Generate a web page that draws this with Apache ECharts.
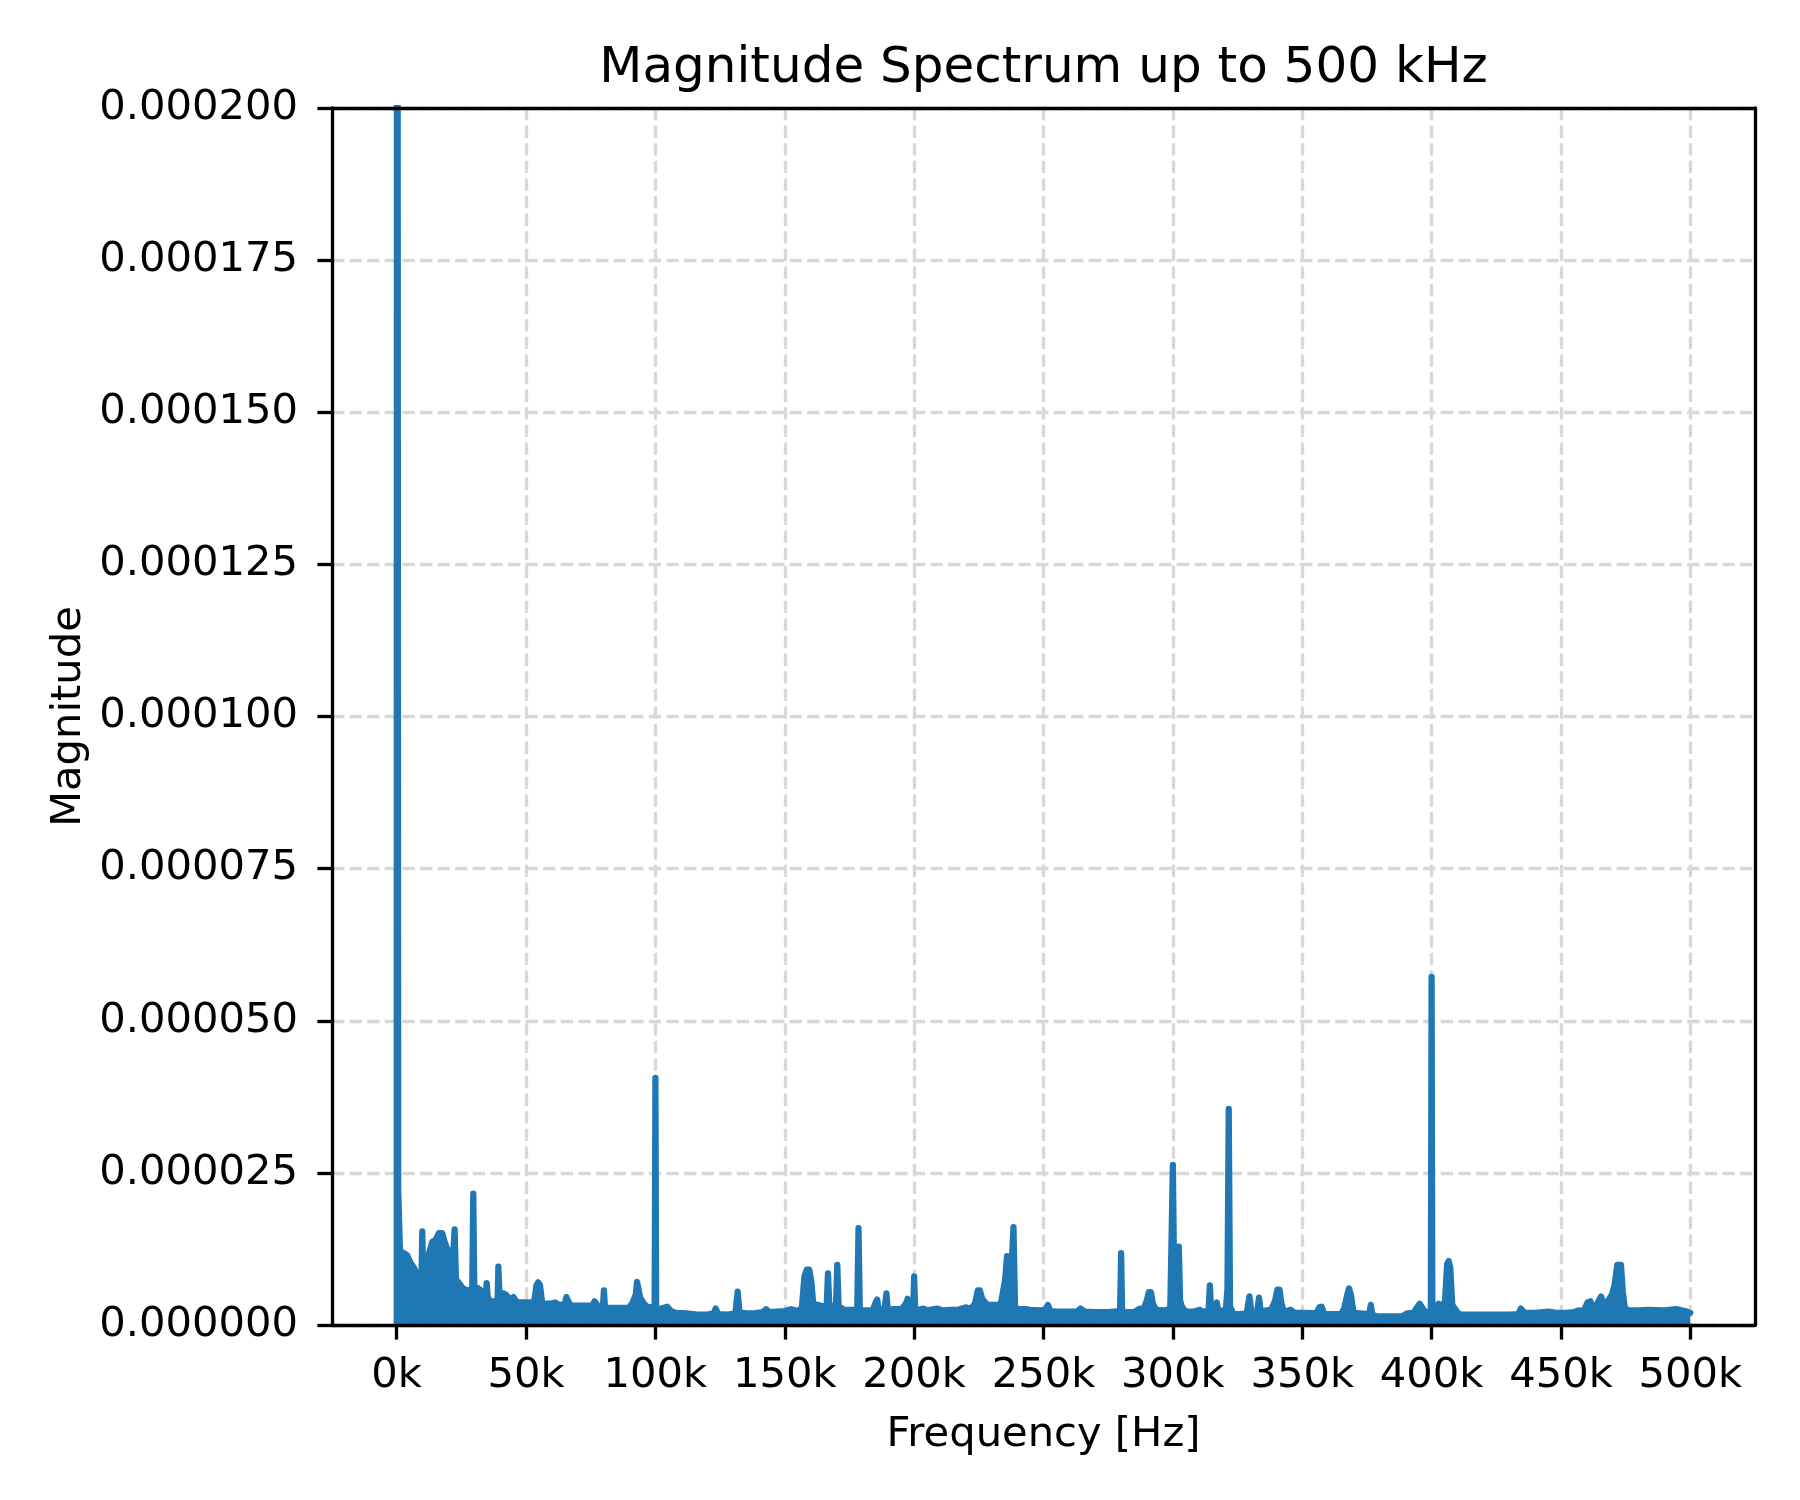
<!DOCTYPE html>
<html>
<head>
<meta charset="utf-8">
<title>Magnitude Spectrum up to 500 kHz</title>
<script src="https://cdn.jsdelivr.net/npm/echarts@6/dist/echarts.min.js"></script>
<style>
  html, body { margin: 0; padding: 0; background: #fff; }
  #chart { width: 1800px; height: 1500px; }
</style>
</head>
<body>
<div id="chart"></div>
<script>
// spectrum, frequency in kHz, magnitude in units of 1e-6
const band1Freq = [0, 0.15, 0.6, 1.3, 2.5, 4.0, 5.4, 6.7, 7.7, 8.8, 9.6, 9.9, 10.2, 11.2, 12.5, 13.8, 15.1, 16.3, 17.6, 18.5, 19.6, 21.9, 22.4, 22.9, 24.1, 25.4, 27.0, 29.2, 29.6, 30.0, 31.2, 33.1, 34.5, 34.8, 35.2, 36.3, 37.5, 39.0, 39.3, 39.7, 41.3, 42.5, 43.8, 45.1, 46.6, 49.0];
const band1Mag = [0.5, 400, 22.0, 11.9, 11.9, 11.5, 10.2, 9.4, 8.5, 8.0, 8.0, 15.4, 8.0, 8.5, 11.8, 13.7, 14.0, 15.1, 15.1, 13.7, 12.4, 12.0, 15.7, 7.5, 6.9, 6.1, 5.7, 5.8, 21.6, 6.1, 6.1, 5.5, 5.3, 6.9, 4.5, 3.9, 3.9, 4.0, 9.6, 5.3, 5.2, 4.9, 4.1, 4.6, 3.7, 3.7];

const band2Freq = [52.4, 53.2, 54.0, 54.7, 55.4, 56.2, 57.0, 59.5, 61.2, 62.8, 65.0, 65.6, 66.2, 66.8, 67.9, 72.0, 75.6, 76.5, 77.2, 78.0, 79.7, 80.1, 80.5, 82.0, 86.0, 89.6, 91.0, 92.4, 92.9, 93.5, 94.1, 95.6, 96.9, 98.8, 99.7];
const band2Mag = [3.7, 3.9, 6.5, 7.0, 6.5, 3.7, 3.5, 3.5, 3.7, 3.3, 3.4, 4.6, 4.8, 3.5, 3.2, 3.2, 3.2, 3.9, 4.0, 3.0, 3.0, 5.7, 2.9, 2.8, 2.8, 2.8, 3.5, 5.0, 7.1, 7.1, 4.5, 3.5, 3.0, 2.9, 2.9];

const band3Freq = [100.0, 100.3, 101.4, 104.6, 106.0, 108, 112, 116, 120, 122.5, 123.3, 124.2, 128, 130.9, 131.8, 132.5, 135, 138, 141.5, 142.8, 144, 147, 150, 152.5, 155, 156.6, 157.6, 158.5, 159.5, 160.3, 161, 163, 164.5, 166.2, 166.7, 167.2, 168.5, 169.8, 170.3, 170.8, 173, 175, 178.0, 178.5, 179.0, 181, 184, 185.2, 185.7, 186.3, 188.5, 189.3, 189.8, 192, 195, 196.8, 197.5, 198.6, 199.7];
const band3Mag = [40.6, 2.7, 2.6, 3.0, 2.3, 2.0, 1.9, 1.7, 1.7, 1.9, 2.7, 1.8, 1.7, 1.9, 5.5, 2.1, 1.9, 1.9, 2.1, 2.6, 2.1, 2.2, 2.3, 2.6, 2.3, 2.8, 8.0, 9.1, 9.1, 7.0, 3.5, 3.3, 3.1, 3.1, 8.5, 3.3, 3.1, 3.3, 9.9, 3.1, 2.5, 2.5, 2.5, 15.9, 2.5, 2.4, 2.4, 3.8, 4.2, 2.5, 2.5, 5.2, 2.5, 2.6, 2.6, 3.5, 4.3, 3.1, 3.1];

const band4Freq = [200.0, 200.4, 202, 203.6, 205, 208.9, 211, 214, 217, 220.2, 221.5, 223.5, 224.6, 225.4, 226.3, 227.5, 228.5, 232, 233.5, 235.2, 235.9, 236.5, 237.4, 238.4, 239.0, 240, 243, 245, 249, 250.8, 251.7, 252.6, 255, 263, 264.3, 266, 270, 275, 279.6, 280.0, 280.4, 282, 285, 287.2, 288.5, 289.9, 290.7, 291.5, 292.3, 293.5, 297, 299.0, 299.7];
const band4Mag = [8.0, 2.6, 2.5, 2.7, 2.4, 2.7, 2.4, 2.5, 2.5, 2.9, 2.5, 3.5, 5.7, 5.7, 4.3, 3.7, 3.3, 3.3, 3.5, 7.5, 11.3, 10.5, 7.5, 16.1, 3.0, 2.6, 2.6, 2.5, 2.4, 2.5, 3.3, 2.3, 2.2, 2.2, 2.7, 2.2, 2.1, 2.1, 2.3, 11.8, 2.1, 2.1, 2.1, 2.7, 2.5, 4.0, 5.4, 5.4, 3.5, 2.5, 2.4, 2.7, 2.9];

const band5Freq = [300.0, 300.6, 301.9, 302.3, 302.8, 303.6, 305, 308, 310.5, 311.5, 313.8, 314.3, 314.8, 316.3, 317.0, 317.5, 320.5, 321.1, 321.6, 322.1, 323.5, 326, 328.5, 329.6, 330.4, 332.5, 333.3, 334.0, 336, 338, 339.5, 340.4, 341.2, 342.0, 343, 345.5, 347, 352, 355.5, 356.6, 357.5, 358.5, 362, 365, 366.2, 367.4, 368.1, 368.8, 369.8, 372, 375.9, 376.5, 377.1, 379, 383, 388.4, 390.5, 393, 394.7, 395.4, 396.3, 397.5, 399.7];
const band5Mag = [26.3, 3.5, 4.0, 12.9, 4.0, 2.9, 2.2, 2.2, 2.5, 2.2, 2.3, 6.5, 2.3, 2.3, 3.7, 2.2, 2.5, 6.0, 35.5, 3.0, 1.8, 1.8, 1.9, 4.7, 1.9, 2.0, 4.5, 2.1, 2.4, 2.5, 4.0, 5.8, 5.8, 3.5, 2.1, 2.5, 2.0, 2.0, 1.9, 2.9, 3.0, 1.8, 1.8, 1.8, 2.7, 5.0, 6.0, 5.0, 2.1, 1.9, 1.8, 3.3, 1.7, 1.4, 1.4, 1.4, 1.9, 2.0, 3.1, 3.5, 2.9, 2.1, 2.3];

const band6Freq = [400.0, 400.3, 401.5, 402.7, 403.8, 405.2, 406.0, 406.6, 407.2, 408.0, 409.8, 411, 420, 430, 433.6, 434.5, 435.2, 436.0, 440, 445.3, 448, 452, 455, 456.8, 458.7, 460.3, 461.4, 462.3, 463.5, 465.5, 466.5, 468.4, 469.7, 470.7, 471.8, 473.2, 473.9, 474.7, 476, 480, 483.7, 490, 494.5, 498, 500.0];
const band6Mag = [57.2, 2.5, 2.5, 3.5, 2.7, 4.0, 10.0, 10.5, 9.5, 3.3, 2.2, 1.7, 1.7, 1.7, 1.8, 2.7, 3.0, 2.0, 2.0, 2.2, 2.0, 2.0, 2.1, 2.4, 2.3, 3.7, 3.9, 2.9, 3.1, 4.7, 3.3, 4.1, 5.0, 6.5, 9.9, 9.9, 5.5, 2.8, 2.4, 2.4, 2.5, 2.4, 2.6, 2.3, 2.0];

const yTicks = [0, 0.000025, 0.00005, 0.000075, 0.0001, 0.000125, 0.00015, 0.000175, 0.0002];

const bands = [
  [band1Freq, band1Mag], [band2Freq, band2Mag], [band3Freq, band3Mag],
  [band4Freq, band4Mag], [band5Freq, band5Mag], [band6Freq, band6Mag]
];
const spectrum = [];
bands.forEach(([fs, ms]) => {
  fs.forEach((f, i) => spectrum.push([f * 1000, ms[i] * 1e-6]));
});

const FONT = 'DejaVu Sans';
const FS = 41.67;
const SPINE = 3.33;

// frame grid spans the padded x range, data grid spans 0..500 kHz
const frame = { left: 332, top: 108, width: 1423, height: 1217 };
const pxPerHz = frame.width / 550000;
const dataGrid = {
  left: frame.left + 25000 * pxPerHz,
  top: frame.top,
  width: 500000 * pxPerHz,
  height: frame.height
};

const spineAxis = (pos, gridIndex) => ({
  gridIndex: gridIndex,
  position: pos,
  type: 'value',
  min: 0,
  max: 1,
  z: 10,
  axisLine: { show: true, onZero: false, lineStyle: { color: '#000', width: SPINE } },
  axisTick: { show: false },
  axisLabel: { show: false },
  splitLine: { show: false }
});

const option = {
  animation: false,
  backgroundColor: '#fff',
  textStyle: { fontFamily: FONT },
  title: {
    text: 'Magnitude Spectrum up to 500 kHz',
    left: frame.left + frame.width / 2,
    textAlign: 'center',
    top: 44,
    padding: 0,
    textStyle: { fontFamily: FONT, fontSize: 50, fontWeight: 'normal', color: '#000' }
  },
  grid: [
    Object.assign({ outerBoundsMode: 'none', containLabel: false }, frame),
    Object.assign({ outerBoundsMode: 'none', containLabel: false }, dataGrid)
  ],
  xAxis: [
    spineAxis('bottom', 0),
    spineAxis('top', 0),
    {
      gridIndex: 1,
      type: 'value',
      position: 'bottom',
      min: 0,
      max: 500000,
      interval: 50000,
      name: 'Frequency [Hz]',
      nameLocation: 'middle',
      nameGap: 89,
      nameMoveOverlap: false,
      nameTextStyle: { fontFamily: FONT, fontSize: FS, color: '#000' },
      axisLine: { show: false, onZero: false },
      axisTick: { show: true, inside: false, length: 14.6, lineStyle: { color: '#000', width: SPINE } },
      axisLabel: {
        show: true,
        margin: 30,
        fontFamily: FONT,
        fontSize: FS,
        color: '#000',
        showMinLabel: true,
        showMaxLabel: true,
        hideOverlap: false,
        formatter: v => (v / 1000) + 'k'
      },
      splitLine: { show: true, lineStyle: { color: '#d8d8d8', width: SPINE, type: [12.3, 5.3] } }
    }
  ],
  yAxis: [
    {
      gridIndex: 0,
      type: 'value',
      position: 'left',
      min: yTicks[0],
      max: yTicks[yTicks.length - 1],
      interval: yTicks[1] - yTicks[0],
      name: 'Magnitude',
      nameLocation: 'middle',
      nameRotate: 90,
      nameGap: 242,
      nameMoveOverlap: false,
      nameTextStyle: { fontFamily: FONT, fontSize: FS, color: '#000' },
      axisLine: { show: true, onZero: false, lineStyle: { color: '#000', width: SPINE } },
      axisTick: { show: true, inside: false, length: 14.6, lineStyle: { color: '#000', width: SPINE } },
      axisLabel: {
        show: true,
        margin: 34,
        padding: [6, 0, 0, 0],
        fontFamily: FONT,
        fontSize: FS,
        color: '#000',
        showMinLabel: true,
        showMaxLabel: true,
        hideOverlap: false,
        formatter: v => v.toFixed(6)
      },
      splitLine: { show: true, lineStyle: { color: '#d8d8d8', width: SPINE, type: [12.3, 5.3] } }
    },
    spineAxis('right', 0),
    {
      gridIndex: 1,
      type: 'value',
      show: false,
      min: yTicks[0],
      max: yTicks[yTicks.length - 1],
      splitLine: { show: false }
    }
  ],
  series: [
    {
      type: 'line',
      xAxisIndex: 2,
      yAxisIndex: 2,
      data: spectrum,
      showSymbol: false,
      symbol: 'none',
      smooth: false,
      clip: true,
      silent: true,
      lineStyle: { color: '#1f77b4', width: 6.25, cap: 'round', join: 'round' },
      areaStyle: { color: '#1f77b4', opacity: 1 },
      emphasis: { disabled: true }
    }
  ]
};

const chart = echarts.init(document.getElementById('chart'), null, { renderer: 'canvas' });
chart.setOption(option);
</script>
</body>
</html>
